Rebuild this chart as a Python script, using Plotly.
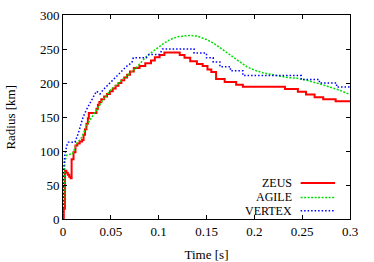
import plotly.graph_objects as go

# ZEUS (red, solid)
zeus_t = [0.0, 0.0008, 0.002, 0.0035, 0.005, 0.0065, 0.008, 0.009, 0.011, 0.013, 0.015, 0.0175,
          0.02, 0.0215, 0.023, 0.0245, 0.026, 0.027, 0.035, 0.0365, 0.038, 0.040, 0.043, 0.046,
          0.049, 0.052, 0.055, 0.058, 0.061, 0.064, 0.067, 0.070, 0.074, 0.080, 0.086, 0.092,
          0.096, 0.101, 0.106, 0.122, 0.127, 0.133, 0.140, 0.146, 0.151, 0.155, 0.160, 0.169,
          0.181, 0.188, 0.232, 0.2455, 0.254, 0.263, 0.272, 0.285, 0.3]
zeus_r = [0, 15, 71, 68, 65, 62, 60, 88, 98, 108, 111, 114,
          116, 124, 132, 140, 148, 156, 162, 168, 172, 176, 180, 184,
          188, 192, 196, 200, 204, 208, 212, 217, 222, 225, 229, 233,
          238, 241, 245, 241, 237, 232, 228, 225, 220, 216, 206, 201.5,
          197.5, 194.5, 191, 187, 183, 179, 176, 173, 173]

# AGILE (green, dense dots)
agile_t = [0.0, 0.001, 0.002, 0.004, 0.010, 0.014, 0.0195, 0.025, 0.028, 0.035, 0.042, 0.050,
           0.060, 0.070, 0.077, 0.087, 0.098, 0.105, 0.112, 0.120, 0.1327, 0.140, 0.150, 0.157,
           0.165, 0.1745, 0.183, 0.192, 0.200, 0.209, 0.218, 0.227, 0.235, 0.244, 0.252, 0.261,
           0.270, 0.279, 0.290, 0.300]
agile_r = [0, 50, 85, 94, 96, 110, 120, 138, 145, 160, 176, 190,
           202, 214, 223, 239, 251, 258, 264, 268, 270, 269, 264, 259,
           251, 242, 233, 224, 219, 215, 212, 210, 208, 207, 205, 202,
           198, 194, 189, 183]

# VERTEX (blue, dotted)
vertex_t = [0.0, 0.0005, 0.002, 0.004, 0.0056, 0.0125, 0.016, 0.021, 0.025, 0.030, 0.035, 0.0387,
            0.042, 0.049, 0.058, 0.066, 0.072, 0.0735, 0.087, 0.090, 0.101, 0.104,
            0.137, 0.137, 0.150, 0.150, 0.157, 0.157, 0.164, 0.164, 0.175, 0.175, 0.188, 0.188,
            0.249, 0.249, 0.268, 0.268, 0.286, 0.286, 0.300]
vertex_r = [0, 70, 95, 108, 113, 113, 126, 150, 162, 176, 188, 184,
            190, 200, 213, 224, 230, 237, 237, 242, 242, 250,
            250, 244, 244, 237, 237, 231, 231, 224, 224, 218, 218, 211,
            211, 205, 205, 200, 200, 194, 194]

series_names = ["ZEUS", "AGILE", "VERTEX"]
x_ticks = [0, 0.05, 0.1, 0.15, 0.2, 0.25, 0.3]
x_tick_labels = ["0", "0.05", "0.1", "0.15", "0.2", "0.25", "0.3"]
y_ticks = [0, 50, 100, 150, 200, 250, 300]

RED = "#ff0000"
GREEN = "#00e000"
BLUE = "#0000ff"
FONT = "Liberation Serif, Times New Roman, DejaVu Serif, serif"

fig = go.Figure()
fig.add_trace(go.Scatter(x=zeus_t, y=zeus_r, mode="lines", line_shape="hv",
                         line=dict(color=RED, width=2), name=series_names[0]))
fig.add_trace(go.Scatter(x=agile_t, y=agile_r, mode="lines",
                         line=dict(color=GREEN, width=1.5, dash="2px,1.5px"), name=series_names[1]))
fig.add_trace(go.Scatter(x=vertex_t, y=vertex_r, mode="lines",
                         line=dict(color=BLUE, width=1.5, dash="1.5px,2px"), name=series_names[2]))

axis_common = dict(showline=True, linecolor="black", linewidth=1, mirror="ticks",
                   ticks="inside", ticklen=4, tickcolor="black", showgrid=False, zeroline=False,
                   automargin=False,
                   tickfont=dict(family=FONT, size=13, color="black"))

fig.update_xaxes(range=[0, 0.3], tickvals=x_ticks, ticktext=x_tick_labels,
                 title=dict(text="Time [s]", font=dict(family=FONT, size=13, color="black")),
                 **axis_common)
fig.update_yaxes(range=[0, 300], tickvals=y_ticks, **axis_common)

# y-axis title placed like gnuplot's
fig.add_annotation(x=-0.186, y=0.5, xref="paper", yref="paper", text="Radius [km]",
                   textangle=-90, showarrow=False, xanchor="center", yanchor="middle",
                   font=dict(family=FONT, size=13, color="black"))

# legend, gnuplot style: right-aligned text, sample line to the right
leg_y = [0.176, 0.106, 0.040]
leg_colors = [RED, GREEN, BLUE]
leg_dash = ["solid", "2px,1.5px", "1.5px,2px"]
leg_width = [2, 1.5, 1.5]
for name, yy, c, d, w in zip(series_names, leg_y, leg_colors, leg_dash, leg_width):
    fig.add_annotation(x=0.80, y=yy, xref="paper", yref="paper", text=name, showarrow=False,
                       xanchor="right", yanchor="middle", height=12, borderpad=0,
                       font=dict(family=FONT, size=12, color="black"))
    fig.add_shape(type="line", xref="paper", yref="paper", x0=0.828, x1=0.948, y0=yy, y1=yy,
                  line=dict(color=c, width=w, dash=d))

fig.update_layout(width=374, height=262, margin=dict(l=63, r=24, t=15, b=43),
                  paper_bgcolor="white", plot_bgcolor="white", showlegend=False,
                  font=dict(family=FONT, size=13, color="black"))

fig.write_html("out.html", config={"displayModeBar": False},
               post_script="document.body.style.margin='0';document.body.style.overflow='hidden';")
